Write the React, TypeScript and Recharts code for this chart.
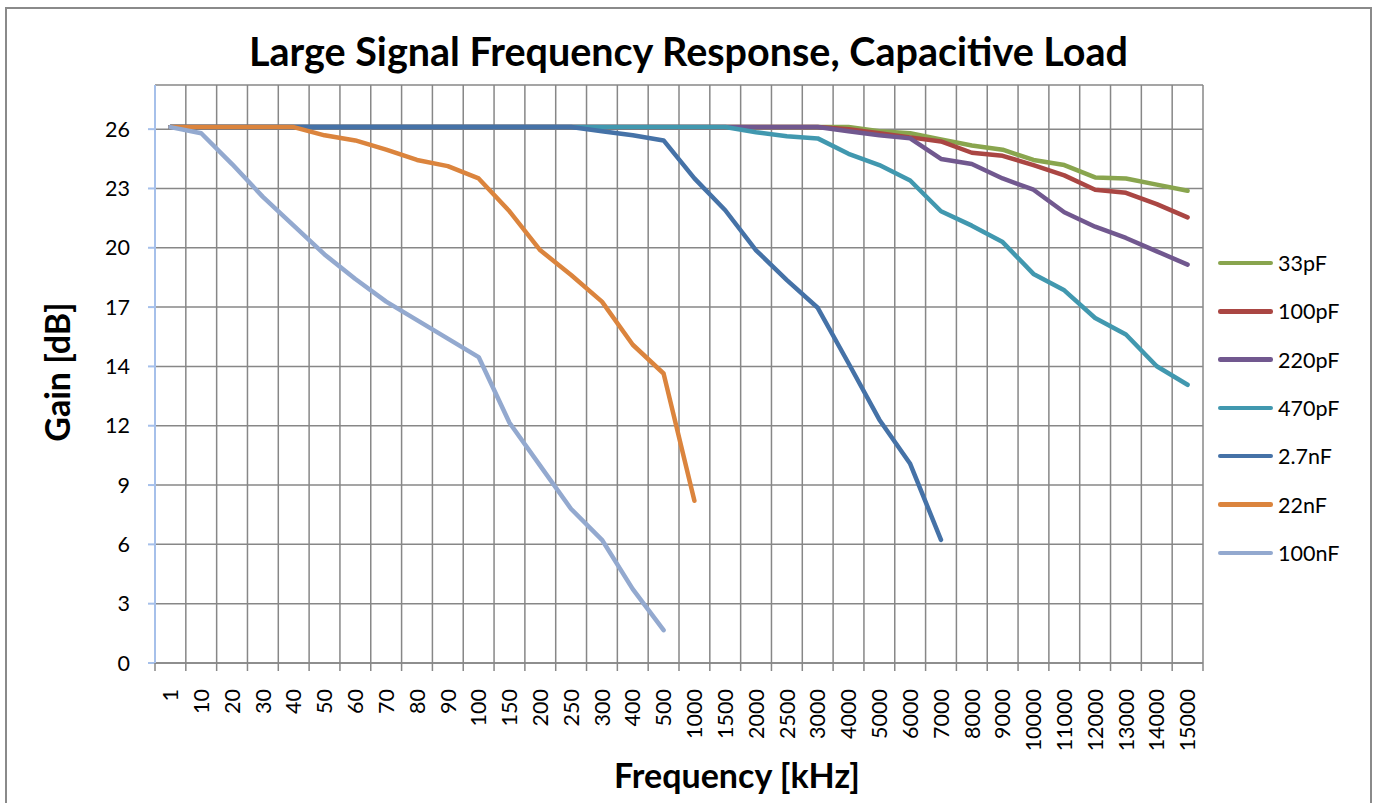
import React from 'react';
import { LineChart, Line, XAxis, YAxis, CartesianGrid } from 'recharts';

const frequencies = [
  '1', '10', '20', '30', '40', '50', '60', '70', '80', '90', '100', '150', '200', '250', '300', '400', '500',
  '1000', '1500', '2000', '2500', '3000', '4000', '5000', '6000', '7000', '8000', '9000', '10000', '11000',
  '12000', '13000', '14000', '15000',
];

const gain33pF = [
  26.1, 26.1, 26.1, 26.1, 26.1, 26.1, 26.1, 26.1, 26.1, 26.1, 26.1, 26.1, 26.1, 26.1, 26.1, 26.1, 26.1,
  26.1, 26.1, 26.1, 26.1, 26.1, 26.1, 25.9, 25.8, 25.5, 25.2, 25.0, 24.5, 24.25, 23.65, 23.6, 23.3, 23.0,
];
const gain100pF = [
  26.1, 26.1, 26.1, 26.1, 26.1, 26.1, 26.1, 26.1, 26.1, 26.1, 26.1, 26.1, 26.1, 26.1, 26.1, 26.1, 26.1,
  26.1, 26.1, 26.1, 26.1, 26.1, 26.0, 25.8, 25.6, 25.4, 24.85, 24.7, 24.25, 23.75, 23.05, 22.9, 22.35, 21.7,
];
const gain220pF = [
  26.1, 26.1, 26.1, 26.1, 26.1, 26.1, 26.1, 26.1, 26.1, 26.1, 26.1, 26.1, 26.1, 26.1, 26.1, 26.1, 26.1,
  26.1, 26.1, 26.1, 26.1, 26.1, 25.9, 25.7, 25.55, 24.55, 24.3, 23.6, 23.05, 21.95, 21.25, 20.7, 20.05, 19.4,
];
const gain470pF = [
  26.1, 26.1, 26.1, 26.1, 26.1, 26.1, 26.1, 26.1, 26.1, 26.1, 26.1, 26.1, 26.1, 26.1, 26.1, 26.1, 26.1,
  26.1, 26.1, 25.85, 25.65, 25.55, 24.8, 24.25, 23.5, 22.0, 21.3, 20.5, 18.95, 18.15, 16.8, 16.0, 14.45, 13.55,
];
const gain2n7F = [
  26.1, 26.1, 26.1, 26.1, 26.1, 26.1, 26.1, 26.1, 26.1, 26.1, 26.1, 26.1, 26.1, 26.1, 25.9, 25.7, 25.45,
  23.6, 22.05, 20.1, 18.65, 17.3, 14.6, 11.85, 9.7, 6.0,
];
const gain22nF = [
  26.1, 26.1, 26.1, 26.1, 26.1, 25.7, 25.45, 25.0, 24.5, 24.2, 23.6, 22.0, 20.1, 18.9, 17.6, 15.5, 14.1, 7.9,
];
const gain100nF = [
  26.1, 25.8, 24.3, 22.7, 21.3, 19.9, 18.7, 17.6, 16.7, 15.8, 14.9, 11.7, 9.6, 7.5, 6.0, 3.6, 1.6,
];

const yTickLabels = ['0', '3', '6', '9', '12', '14', '17', '20', '23', '26'];

// drawing order follows the Excel series order (last one on top)
const series = [
  { key: 'c33pF', name: '33pF', values: gain33pF, color: '#89A54E' },
  { key: 'c100pF', name: '100pF', values: gain100pF, color: '#AA4643' },
  { key: 'c220pF', name: '220pF', values: gain220pF, color: '#71588F' },
  { key: 'c470pF', name: '470pF', values: gain470pF, color: '#4198AF' },
  { key: 'c2n7F', name: '2.7nF', values: gain2n7F, color: '#4572A7' },
  { key: 'c22nF', name: '22nF', values: gain22nF, color: '#DB843D' },
  { key: 'c100nF', name: '100nF', values: gain100nF, color: '#93A9CF' },
];

const data = frequencies.map((freq, i) => {
  const row: Record<string, string | number | undefined> = { freq };
  series.forEach((s) => {
    row[s.key] = s.values[i];
  });
  return row;
});

const W = 1379;
const H = 803;
const MARGIN = { top: 85, right: 176, bottom: 60, left: 55 };
const Y_AXIS_W = 100;
const X_AXIS_H = 80;
const PLOT_W = W - MARGIN.left - MARGIN.right - Y_AXIS_W;
const BAND = PLOT_W / frequencies.length;
const yStep = 26 / 9;
const yTicks = yTickLabels.map((_, k) => k * yStep);
const FONT = 'Lato, "Open Sans", sans-serif';
const GRID = '#878787';

const XTick = ({ x, y, payload, index }: any) => {
  const left = x - BAND / 2;
  return (
    <g>
      <line x1={left} y1={y - 8} x2={left} y2={y} stroke={GRID} strokeWidth={1.5} />
      {index === frequencies.length - 1 && (
        <line x1={x + BAND / 2} y1={y - 8} x2={x + BAND / 2} y2={y} stroke={GRID} strokeWidth={1.5} />
      )}
      <text
        x={x}
        y={y + 18}
        transform={`rotate(-90, ${x}, ${y + 18})`}
        textAnchor="end"
        dy="0.36em"
        fontSize={21.5}
        fontFamily={FONT}
        fill="#000"
      >
        {payload.value}
      </text>
    </g>
  );
};

export default function App() {
  return (
    <div
      style={{
        position: 'absolute',
        left: 0,
        top: 0,
        width: W,
        height: H,
        overflow: 'hidden',
        background: '#fff',
        fontFamily: FONT,
      }}
    >
      <div
        style={{
          position: 'absolute',
          left: 5,
          top: 7,
          width: 1367,
          height: 820,
          border: '2px solid #8a8a8a',
          boxSizing: 'border-box',
        }}
      />
      <div
        style={{
          position: 'absolute',
          left: 0,
          width: W - 2,
          top: 29,
          textAlign: 'center',
          fontSize: 39.5,
          fontWeight: 700,
          lineHeight: 1.1,
          color: '#000',
        }}
      >
        Large Signal Frequency Response, Capacitive Load
      </div>
      <div
        style={{
          position: 'absolute',
          left: 56,
          top: 372,
          transform: 'translate(-50%, -50%) rotate(-90deg)',
          fontSize: 34,
          fontWeight: 700,
          whiteSpace: 'nowrap',
        }}
      >
        Gain [dB]
      </div>
      <div
        style={{
          position: 'absolute',
          left: 737,
          top: 774,
          transform: 'translate(-50%, -50%)',
          fontSize: 34,
          fontWeight: 700,
          whiteSpace: 'nowrap',
        }}
      >
        Frequency [kHz]
      </div>

      <div style={{ position: 'absolute', left: 0, top: 0 }}>
        <LineChart width={W} height={H} data={data} margin={MARGIN}>
          <CartesianGrid
            stroke={GRID}
            strokeWidth={1.5}
            verticalCoordinatesGenerator={({ offset }: any) =>
              frequencies.map((_, k) => offset.left + ((k + 1) * offset.width) / frequencies.length)
            }
          />
          <XAxis
            dataKey="freq"
            type="category"
            interval={0}
            height={X_AXIS_H}
            padding={{ left: BAND / 2, right: BAND / 2 }}
            tickLine={false}
            tickSize={8}
            tickMargin={0}
            axisLine={{ stroke: GRID, strokeWidth: 1.5 }}
            tick={<XTick />}
          />
          <YAxis
            type="number"
            width={Y_AXIS_W}
            domain={[0, 28.15]}
            ticks={yTicks}
            interval={0}
            allowDataOverflow
            tickFormatter={(_v: number, i: number) => yTickLabels[i]}
            tickSize={7}
            tickMargin={18}
            tickLine={{ stroke: '#a6c0ea', strokeWidth: 2 }}
            axisLine={{ stroke: '#a6c0ea', strokeWidth: 2 }}
            tick={{ fontSize: 21.5, fontFamily: FONT, fill: '#000' }}
          />
          {series.map((s) => (
            <Line
              key={s.key}
              dataKey={s.key}
              name={s.name}
              stroke={s.color}
              strokeWidth={4.5}
              strokeLinejoin="round"
              strokeLinecap="round"
              dot={false}
              activeDot={false}
              isAnimationActive={false}
            />
          ))}
        </LineChart>
      </div>

      <div style={{ position: 'absolute', left: 1218, top: 263 }}>
        {series.map((s, i) => (
          <div
            key={s.key}
            style={{
              position: 'absolute',
              left: 0,
              top: i * 48.3,
              transform: 'translateY(-50%)',
              display: 'flex',
              alignItems: 'center',
              whiteSpace: 'nowrap',
            }}
          >
            <div style={{ width: 55, height: 4.5, borderRadius: 2.25, background: s.color }} />
            <span style={{ marginLeft: 5, fontSize: 21.5, color: '#000' }}>{s.name}</span>
          </div>
        ))}
      </div>
    </div>
  );
}
